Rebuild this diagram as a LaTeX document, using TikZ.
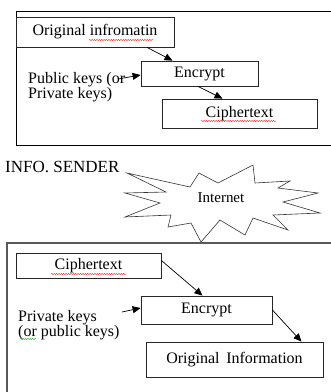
\documentclass[tikz,border=0pt]{standalone}
\usepackage{fontspec}
\setmainfont{Liberation Serif}
\usetikzlibrary{arrows.meta,decorations.pathmorphing}
\begin{document}
\begin{tikzpicture}[x=1pt,y=-1pt, >={Triangle[length=8pt,width=7pt]}]
  \tikzset{infobox/.style={draw=black!85, line width=0.8pt, inner sep=0pt,
                           font=\fontsize{16}{15}\selectfont},
           keytext/.style={align=left, anchor=north west, inner sep=0pt,
                           font=\fontsize{16}{15}\selectfont},
           spell/.style={decorate, decoration={snake, amplitude=0.5pt, segment length=2.4pt},
                         line width=0.4pt}}
  \useasboundingbox (0,0) rectangle (331,392);
  % sender side
  \draw [line width=0.8pt] (331,11) -| (16,145) -- (331,145);
  \node [infobox, minimum width=158pt, minimum height=30pt] (orig) at (95,32) {Original infromatin};
  \node [infobox, minimum width=117pt, minimum height=25pt] (encS) at (199.5,73.5) {Encrypt};
  \node [infobox, minimum width=155pt, minimum height=29pt] (ciphS) at (239.5,113.5) {Ciphertext};
  \node [keytext] (keyS) at (28,72) {Public keys (or\\Private keys)};
  \coordinate (keyS end) at (118,79);
  \draw [->, line width=0.7pt] ([xshift=52pt]orig.south) -- ([xshift=-27pt]encS.north);
  \draw [->, line width=0.7pt] (keyS end) -- ([yshift=-1.5pt]encS.west);
  \draw [->, line width=0.7pt] ([xshift=-1.5pt]encS.south) -- ([xshift=-17pt]ciphS.north);
  \draw [red, spell] (89,40) -- (154,40);
  \draw [red, spell] (201,121) -- (276,121);
  % internet
  \node [anchor=base west, inner sep=0pt, font=\fontsize{17}{15}\selectfont] (sender) at (5,172) {INFO. SENDER};
  \draw [black!80, line width=0.6pt, line join=miter]
    (127,173) -- (190,187) -- (199,173) -- (218,183) -- (253,165) -- (255,183)
    -- (290,181) -- (278,188) -- (318,193) -- (283,202) -- (320,213) -- (273,215)
    -- (288,230) -- (253,218) -- (245,235) -- (220,220) -- (201,242) -- (191,223)
    -- (168,227) -- (171,215) -- (125,217) -- (160,203) -- (125,193) -- (166,192) -- cycle;
  \node [anchor=base, inner sep=0pt, font=\fontsize{15}{15}\selectfont] (net) at (221,202.5) {Internet};
  % receiver side
  \draw [black!65, line width=1.6pt] (331,243) -| (7,392);
  \node [infobox, minimum width=145pt, minimum height=25pt] (ciphR) at (88.5,265.5) {Ciphertext};
  \node [infobox, minimum width=131pt, minimum height=28pt] (encR) at (206.5,310) {Encrypt};
  \node [infobox, minimum width=177pt, minimum height=35pt] (origR) at (234.5,359.5) {Original\, Information};
  \node [keytext] (keyR) at (18,310) {Private keys\\(or public keys)};
  \coordinate (keyR end) at (122,312);
  \draw [->, line width=0.7pt] ([yshift=5pt]ciphR.east) -- ([xshift=-4pt]encR.north);
  \draw [->, line width=0.7pt] (keyR end) -- ([yshift=2pt]encR.west);
  \draw [->, line width=0.7pt] ([yshift=0pt]encR.east) -- ([xshift=67pt]origR.north);
  \draw [red, spell] (51,274) -- (126,274);
  \draw [green!60!black, spell] (20,339) -- (36,339);
\end{tikzpicture}
\end{document}
